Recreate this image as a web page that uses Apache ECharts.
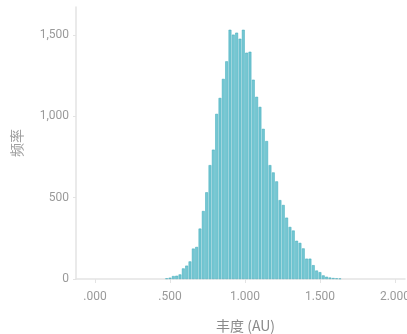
<!DOCTYPE html>
<html>
<head>
<meta charset="utf-8">
<script src="https://cdn.jsdelivr.net/npm/echarts@6/dist/echarts.min.js"></script>
<style>html,body{margin:0;padding:0;background:#fff}#c{width:407px;height:334px}</style>
</head>
<body>
<div id="c"></div>
<script>
// Histogram bins (abundance, AU)
const binStart = 0.4667;
const binWidth = 0.02222;
const counts = [4, 8, 18, 20, 28, 65, 82, 108, 187, 197, 310, 418, 533, 700, 795, 1015,
  1113, 1230, 1338, 1532, 1502, 1514, 1477, 1532, 1391, 1397, 1225, 1120, 1058, 923, 848,
  700, 655, 600, 485, 455, 377, 320, 298, 235, 222, 188, 125, 125, 85, 52, 42, 22, 14, 9, 6, 4, 3];
const xTicks = [0, 0.5, 1, 1.5, 2];
const yTicks = [0, 500, 1000, 1500];
const xName = '丰度 (AU)';
const yName = '频率';

const data = counts.map((c, i) => [binStart + (i + 0.5) * binWidth, c]);
const fmtX = v => { let s = Number(v).toFixed(3); if (s.startsWith('0')) s = s.slice(1); return s; };

const chart = echarts.init(document.getElementById('c'), null, {renderer: 'canvas'});
const labelFont = {color: '#9a9a9a', fontSize: 12, fontFamily: 'Roboto, sans-serif'};
chart.setOption({
  animation: false,
  grid: {left: 76, right: 2, top: 7, bottom: 55, containLabel: false, outerBoundsMode: 'none'},
  xAxis: {
    type: 'value', min: -0.1267, max: 2.067,
    name: xName, nameLocation: 'middle', nameGap: 40,
    nameTextStyle: {color: '#8a8a8a', fontSize: 14, fontFamily: 'Noto Sans CJK SC, sans-serif', padding: [0, 0, 0, 10]},
    axisLine: {onZero: false, lineStyle: {color: '#e3e3e3', width: 1.5}},
    axisTick: {show: true, length: 4, lineStyle: {color: '#e3e3e3'}, customValues: xTicks},
    axisLabel: Object.assign({margin: 12, formatter: fmtX, customValues: xTicks}, labelFont),
    splitLine: {show: false}
  },
  yAxis: {
    type: 'value', min: 0, max: 1672,
    name: yName, nameLocation: 'middle', nameGap: 52, nameRotate: 90,
    nameTextStyle: {color: '#a0a0a0', fontSize: 14, fontFamily: 'Noto Sans CJK SC, sans-serif'},
    axisLine: {show: true, onZero: false, lineStyle: {color: '#e3e3e3', width: 1.5}},
    axisTick: {show: true, length: 3, lineStyle: {color: '#e3e3e3'}, customValues: yTicks},
    axisLabel: Object.assign({margin: 7, customValues: yTicks,
      formatter: v => Number(v).toLocaleString('en-US')}, labelFont),
    splitLine: {show: false}
  },
  series: [{
    type: 'bar',
    data: data,
    barWidth: 2.8,
    itemStyle: {color: '#74c7d3', borderColor: '#3aa8b8', borderWidth: 0.5}
  }]
});
</script>
</body>
</html>
